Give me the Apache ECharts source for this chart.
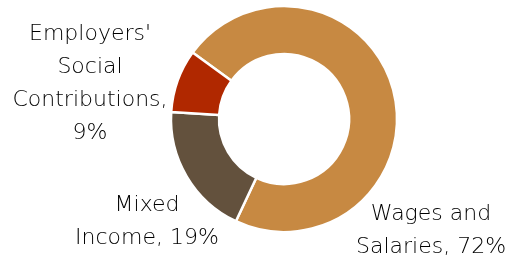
<!DOCTYPE html>
<html>
<head>
    <meta charset="utf-8">
    <script src="https://cdn.jsdelivr.net/npm/echarts@6/dist/echarts.min.js"></script>
    <style type="text/css">
        html, body { width: 100%; height: 100%; }
        * { margin: 0; }
        #chart { width: 505px; height: 258px; }
    </style>
</head>
<body>
<div id="chart"></div>
<script type="text/javascript">
    // 数据
    var names = ['Wages and\nSalaries', 'Mixed\nIncome', "Employers'\nSocial\nContributions"];
    var values = [72, 19, 9];
    var separators = [', ', ', ', ',\n'];
    var colors = ['#c78942', '#63513d', '#b02800'];

    // 标签位置 (label centres)
    var labelPos = [[431, 231], [147, 222], [90, 84]];

    var data = names.map(function (n, i) {
        return { name: n, value: values[i], itemStyle: { color: colors[i] } };
    });

    var option = {
        animation: false,
        series: [
            {
                type: 'pie',
                center: [284, 119],
                radius: [65, 113],
                startAngle: 144,
                clockwise: true,
                itemStyle: {
                    borderColor: '#ffffff',
                    borderWidth: 2.5
                },
                label: {
                    show: true,
                    position: 'outside',
                    color: '#000000',
                    fontFamily: 'DejaVu Sans',
                    fontWeight: 200,
                    fontSize: 22,
                    lineHeight: 33,
                    align: 'center',
                    overflow: 'none',
                    formatter: function (p) {
                        return p.name + separators[p.dataIndex] + p.value + '%';
                    }
                },
                labelLine: { show: false },
                labelLayout: function (p) {
                    var pos = labelPos[p.dataIndex];
                    return { x: pos[0], y: pos[1], align: 'center', verticalAlign: 'middle' };
                },
                data: data
            }
        ]
    };

    var myChart = echarts.init(document.getElementById('chart'));
    myChart.setOption(option);
</script>
</body>
</html>
